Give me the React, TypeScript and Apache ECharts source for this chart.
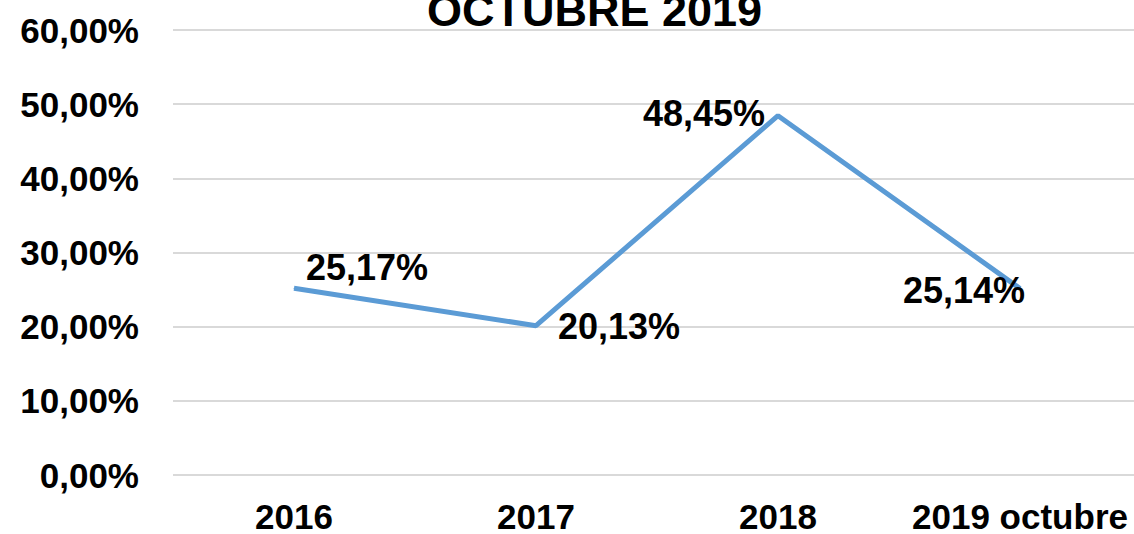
import React, { useEffect, useRef } from "react";
import * as echarts from "echarts";

const categories = ["2016", "2017", "2018", "2019 octubre"];
const values = [25.17, 20.13, 48.45, 25.14];
const yTicks = [0, 10, 20, 30, 40, 50, 60];
const titleText = "OCTUBRE 2019";

// label layout (not data): pixel offsets from each point
const LABEL_OFFSETS: [number, number][] = [
  [73, -21],
  [83, 1],
  [-74, -2],
  [-56, 2],
];

const FONT = "'Liberation Sans', Arial, sans-serif";
const fmt = (v: number) => v.toFixed(2).replace(".", ",") + "%";

export default function App() {
  const ref = useRef<HTMLDivElement>(null);
  useEffect(() => {
    if (!ref.current) return;
    const chart = echarts.init(ref.current, undefined, { renderer: "svg" });
    chart.setOption({
      animation: false,
      backgroundColor: "#ffffff",
      title: {
        text: titleText,
        left: 427,
        top: -12,
        padding: 0,
        textStyle: { fontFamily: FONT, fontSize: 45, fontWeight: "bold", color: "#000" },
      },
      grid: {
        left: 173,
        top: 30,
        width: 968,
        height: 445,
        containLabel: false,
        outerBoundsMode: "none",
      },
      xAxis: {
        type: "category",
        data: categories,
        boundaryGap: true,
        axisLine: { show: false },
        axisTick: { show: false },
        axisLabel: {
          interval: 0,
          margin: 27,
          lineHeight: 28,
          fontFamily: FONT,
          fontSize: 35,
          fontWeight: "bold",
          color: "#000",
        },
      },
      yAxis: {
        type: "value",
        min: yTicks[0],
        max: yTicks[yTicks.length - 1],
        interval: 10,
        axisLine: { show: false },
        axisTick: { show: false },
        splitLine: { lineStyle: { color: "#d9d9d9", width: 2 } },
        axisLabel: {
          margin: 34,
          fontFamily: FONT,
          fontSize: 35,
          fontWeight: "bold",
          color: "#000",
          formatter: (v: number) => fmt(v),
        },
      },
      series: [
        {
          type: "line",
          data: values.map((v, i) => ({
            value: v,
            label: {
              show: true,
              position: "inside",
              align: "center",
              verticalAlign: "middle",
              offset: LABEL_OFFSETS[i],
              formatter: () => fmt(v),
              fontFamily: FONT,
              fontSize: 36,
              fontWeight: "bold",
              color: "#000",
            },
          })),
          symbol: "circle",
          symbolSize: 1,
          itemStyle: { color: "#5b9bd5" },
          lineStyle: { color: "#5b9bd5", width: 5 },
          z: 3,
        },
      ],
    });
    return () => chart.dispose();
  }, []);
  return (
    <div
      ref={ref}
      style={{ position: "fixed", left: 0, top: 0, width: 1134, height: 534 }}
    />
  );
}
